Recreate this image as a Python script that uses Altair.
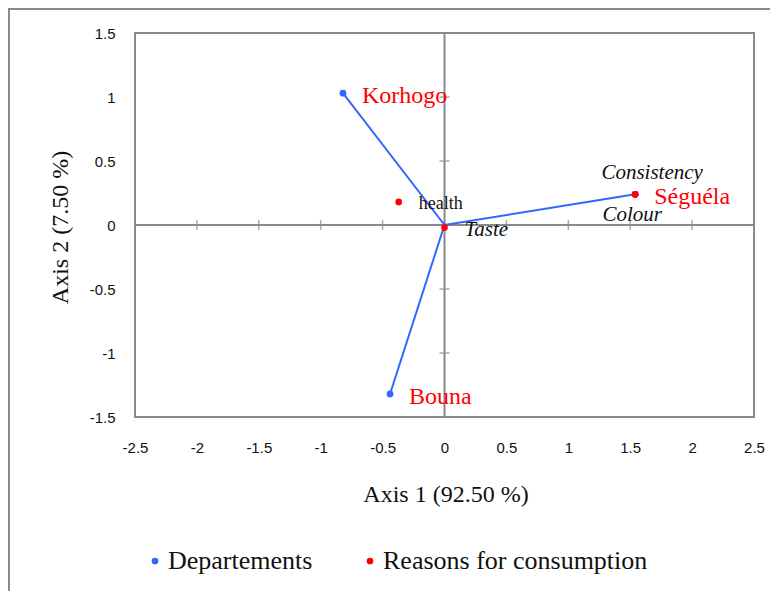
import altair as alt
import pandas as pd

# ---- data ----
dept_names = ["Korhogo", "Bouna", "Séguéla"]
dept_x = [-0.82, -0.44, 1.54]
dept_y = [1.03, -1.32, 0.24]

reason_names = ["health", "Taste", "Consistency", "Colour"]
reason_x = [-0.37, 0.0, 1.54, 1.54]
reason_y = [0.18, -0.02, 0.24, 0.24]

x_ticks = [-2.5, -2, -1.5, -1, -0.5, 0, 0.5, 1, 1.5, 2, 2.5]
y_ticks = [-1.5, -1, -0.5, 0, 0.5, 1, 1.5]

series_names = ["Departements", "Reasons for consumption"]
BLUE = "#3366ff"
RED = "#ff0000"
GRAY = "#898989"
SERIF = "Liberation Serif, Times New Roman, serif"
NARROW = "Liberation Sans Narrow, Arial Narrow, Liberation Sans, sans-serif"

W, H = 619, 384

dept = pd.DataFrame({"name": dept_names, "x": dept_x, "y": dept_y,
                     "x0": [0.0] * 3, "y0": [0.0] * 3,
                     "series": series_names[0]})
reas = pd.DataFrame({"name": reason_names, "x": reason_x, "y": reason_y,
                     "series": series_names[1]})
pts = pd.concat([dept, reas[["name", "x", "y", "series"]]], ignore_index=True)

xs = alt.Scale(domain=[-2.5, 2.5], nice=False, zero=False)
ys = alt.Scale(domain=[-1.5, 1.5], nice=False, zero=False)

x_axis = alt.Axis(values=x_ticks, grid=False, ticks=False, tickSize=0, domain=False,
                  labelFont=NARROW, labelFontSize=15, labelColor="#111",
                  labelBaseline="middle", labelPadding=30, labelExpr="datum.value + ''",
                  labelFlush=False, labelOverlap=False,
                  title="Axis 1 (92.50 %)", titleFont=SERIF, titleFontSize=24,
                  titleFontWeight="normal", titleColor="#111",
                  titleX=W / 2 + 1, titleY=77, titleBaseline="middle", titleAlign="center")
y_axis = alt.Axis(values=y_ticks, grid=False, ticks=False, tickSize=0, domain=False,
                  labelFont=NARROW, labelFontSize=15, labelColor="#111",
                  labelBaseline="middle", labelAlign="right", labelPadding=20,
                  labelExpr="datum.value + ''", labelFlush=False, labelOverlap=False,
                  title="Axis 2  (7.50 %)", titleFont=SERIF, titleFontSize=24,
                  titleFontWeight="normal", titleColor="#111",
                  titleX=-75, titleY=H / 2 + 2, titleAngle=-90,
                  titleBaseline="middle", titleAlign="center")

X = alt.X("x:Q", scale=xs, axis=x_axis)
Y = alt.Y("y:Q", scale=ys, axis=y_axis)

one = pd.DataFrame({"k": [0]})

# plot-area frame
pframe = alt.Chart(one).mark_rect(fill=None, stroke=GRAY, strokeWidth=2).encode(
    x=alt.value(0), x2=alt.value(W), y=alt.value(0), y2=alt.value(H))

# cross axes through the origin
zero_df = pd.DataFrame({"x": [0.0], "y": [0.0]})
hline = alt.Chart(zero_df).mark_rule(color=GRAY, strokeWidth=2).encode(y=Y)
vline = alt.Chart(zero_df).mark_rule(color=GRAY, strokeWidth=2).encode(x=X)

xt = pd.DataFrame({"x": x_ticks, "y": [0.0] * len(x_ticks)})
yt = pd.DataFrame({"x": [0.0] * len(y_ticks), "y": y_ticks})
xtick = alt.Chart(xt).mark_tick(orient="vertical", size=10, thickness=1.5, color=GRAY).encode(x=X, y=Y)
ytick = alt.Chart(yt).mark_tick(orient="horizontal", size=10, thickness=1.5, color=GRAY).encode(x=X, y=Y)

# vectors from origin
vec = alt.Chart(dept).mark_rule(color=BLUE, strokeWidth=2).encode(
    x=X, y=Y, x2="x0:Q", y2="y0:Q")

points = alt.Chart(pts).mark_point(filled=True, shape="circle", size=45, opacity=1).encode(
    x=X, y=Y,
    color=alt.Color("series:N",
                    scale=alt.Scale(domain=series_names, range=[BLUE, RED]),
                    legend=alt.Legend(orient="none", legendX=7, legendY=515,
                                      direction="horizontal", title=None,
                                      labelFont=SERIF, labelFontSize=26, labelColor="#111",
                                      labelLimit=400, symbolType="circle", symbolSize=45,
                                      symbolStrokeWidth=0, labelOffset=0,
                                      columnPadding=44, padding=0)))

dept_lbl = alt.Chart(dept).mark_text(align="left", baseline="middle", dx=19, dy=3,
                                     font=SERIF, fontSize=24, color=RED).encode(
    x=X, y=Y, text="name:N")

health_lbl = alt.Chart(reas[reas["name"] == "health"]).mark_text(
    align="left", baseline="middle", dx=20, dy=2, font=SERIF, fontSize=18, color="#111").encode(
    x=X, y=Y, text="name:N")
taste_lbl = alt.Chart(reas[reas["name"] == "Taste"]).mark_text(
    align="left", baseline="middle", dx=20, dy=2, font=SERIF, fontSize=21,
    fontStyle="italic", color="#111").encode(x=X, y=Y, text="name:N")
cons_lbl = alt.Chart(reas[reas["name"] == "Consistency"]).mark_text(
    align="center", baseline="middle", dx=17, dy=-21, font=SERIF, fontSize=21,
    fontStyle="italic", color="#111").encode(x=X, y=Y, text="name:N")
col_lbl = alt.Chart(reas[reas["name"] == "Colour"]).mark_text(
    align="center", baseline="middle", dx=-3, dy=21, font=SERIF, fontSize=21,
    fontStyle="italic", color="#111").encode(x=X, y=Y, text="name:N")

# outer chart frame
frame = alt.Chart(one).mark_rect(
    fill=None, stroke=GRAY, strokeWidth=2, clip=False).encode(
    x=alt.value(-126), x2=alt.value(W + 60), y=alt.value(-24), y2=alt.value(H + 300))

chart = alt.layer(
    frame, pframe, hline, vline, xtick, ytick, vec, points,
    dept_lbl, health_lbl, taste_lbl, cons_lbl, col_lbl
).properties(
    width=W, height=H,
    autosize=alt.AutoSizeParams(type="none"),
    padding={"left": 127, "top": 25, "right": 16, "bottom": 174},
).configure_view(stroke=None).configure(background="white")

chart.save("out.html", embed_options={"renderer": "svg", "actions": False})
